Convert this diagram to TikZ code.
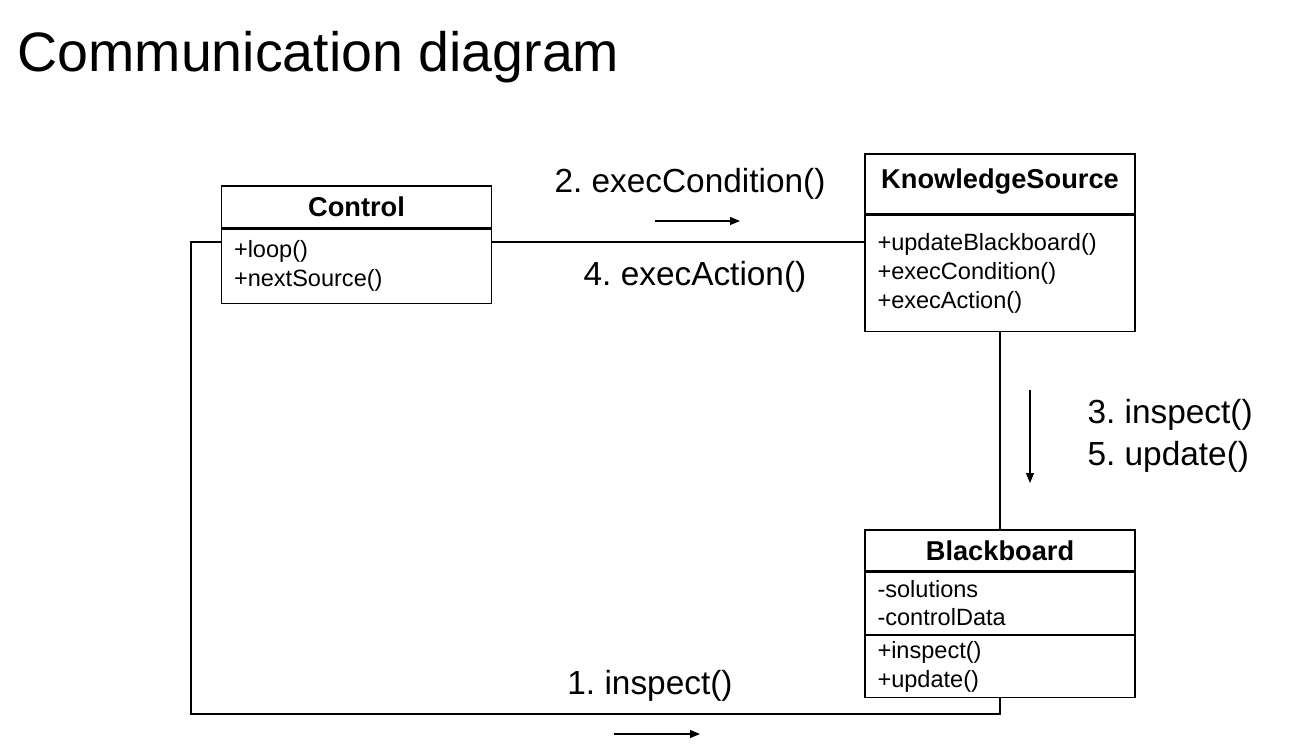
\documentclass[tikz,border=0pt]{standalone}
\usepackage{fontspec}
\setmainfont{Liberation Sans}
\frenchspacing
\usetikzlibrary{arrows.meta, positioning}

\begin{document}
\begin{tikzpicture}[>={Triangle[length=2mm,width=1.6mm]}, line width=0.65pt,
      classname/.style={draw, minimum width=5.4cm, font=\fontsize{15.5}{18}\selectfont\bfseries},
      members/.style={draw, text width=4.9cm, inner xsep=0.25cm, align=left,
        font=\fontsize{13.4}{16.4}\selectfont},
      message/.style={font=\fontsize{19}{23.8}\selectfont, inner sep=0pt}]
      \useasboundingbox (0,0) rectangle (25.8,-14.92);
      \node[anchor=west, inner sep=0pt, font=\fontsize{31.6}{38}\selectfont] (title) at (0.34,-1.14) {Communication diagram};
      % classes
      \node[classname, minimum height=0.84cm] (ctrl) at (7.13,-4.14) {Control};
      \node[members, minimum height=1.48cm, below=0pt of ctrl] (ctrlops) {+loop()\\+nextSource()};
      \node[classname, minimum height=1.2cm, text depth=0.2cm] (ks) at (20,-3.68) {KnowledgeSource};
      \node[members, minimum height=2.32cm, below=0pt of ks] (ksops) {+updateBlackboard()\\+execCondition()\\+execAction()};
      \node[classname, minimum height=0.82cm] (bb) at (20,-11.01) {Blackboard};
      \node[members, minimum height=1.24cm, below=0pt of bb] (bbattr) {-solutions\\-controlData};
      \node[members, minimum height=1.2cm, below=0pt of bbattr] (bbops) {+inspect()\\+update()};
      % links
      \coordinate (wire) at (0,-4.84);
      \coordinate (loop) at (3.82,-14.28);
      \draw (ctrlops.east |- wire) -- (ksops.west |- wire);
      \draw (ksops.south) -- (bb.north);
      \draw (ctrlops.west |- wire) -| (loop) -| (bbops.south);
      % messages
      \node[message] (m2) at (13.8,-3.68) {2. execCondition()};
      \node[message] (m4) at (13.9,-5.54) {4. execAction()};
      \node[message, anchor=west, align=left] (m35) at (21.74,-8.72) {3. inspect()\\5. update()};
      \node[message] (m1) at (13.0,-13.72) {1. inspect()};
      \coordinate (a2s) at (13.1,-4.42);  \coordinate (a2e) at (14.8,-4.42);
      \coordinate (a3s) at (20.6,-7.8);   \coordinate (a3e) at (20.6,-9.66);
      \coordinate (a1s) at (12.28,-14.68); \coordinate (a1e) at (14.0,-14.68);
      \draw[->] (a2s) -- (a2e);
      \draw[->] (a3s) -- (a3e);
      \draw[->] (a1s) -- (a1e);
\end{tikzpicture}
\end{document}
